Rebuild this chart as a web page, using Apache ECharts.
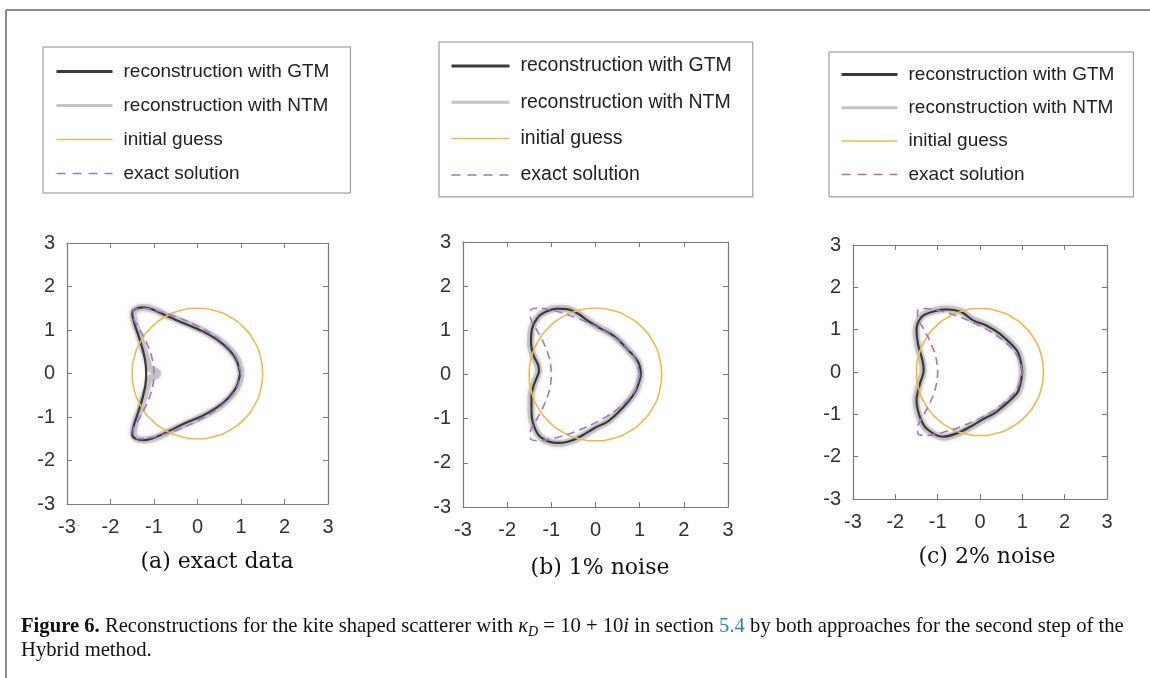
<!DOCTYPE html>
<html>
<head>
<meta charset="utf-8">
<script src="https://cdn.jsdelivr.net/npm/echarts@6/dist/echarts.min.js"></script>
<style>
html,body{margin:0;padding:0;background:#fff;}
#chart{width:1150px;height:678px;}
</style>
</head>
<body>
<div id="chart"></div>
<script>
// ---- data ----
const seriesNames = ['reconstruction with GTM', 'reconstruction with NTM', 'initial guess', 'exact solution'];
const panelCaptions = ['(a) exact data', '(b) 1% noise', '(c) 2% noise'];
const tickValues = [-3, -2, -1, 0, 1, 2, 3];

// initial guess: circle of radius 1.5
const initialGuess = [
  [1.5,0],[1.449,0.388],[1.299,0.75],[1.061,1.061],[0.75,1.299],[0.388,1.449],[0,1.5],
  [-0.388,1.449],[-0.75,1.299],[-1.061,1.061],[-1.299,0.75],[-1.449,0.388],[-1.5,0],
  [-1.449,-0.388],[-1.299,-0.75],[-1.061,-1.061],[-0.75,-1.299],[-0.388,-1.449],[0,-1.5],
  [0.388,-1.449],[0.75,-1.299],[1.061,-1.061],[1.299,-0.75],[1.449,-0.388],[1.5,0]
];
// exact solution: kite
const exactKite = [
  [1.0,0],[0.879,0.388],[0.541,0.75],[0.057,1.061],[-0.475,1.299],[-0.954,1.449],[-1.3,1.5],
  [-1.472,1.449],[-1.475,1.299],[-1.357,1.061],[-1.191,0.75],[-1.053,0.388],[-1.0,0],
  [-1.053,-0.388],[-1.191,-0.75],[-1.357,-1.061],[-1.475,-1.299],[-1.472,-1.449],[-1.3,-1.5],
  [-0.954,-1.449],[-0.475,-1.299],[0.057,-1.061],[0.541,-0.75],[0.879,-0.388],[1.0,0]
];
// (a) exact data
const gtmA = [
  [0.98,0],[0.9,0.3],[0.72,0.55],[0.45,0.78],[0.1,0.98],[-0.3,1.15],[-0.7,1.32],[-1.0,1.46],
  [-1.25,1.52],[-1.45,1.47],[-1.5,1.38],[-1.45,1.15],[-1.35,0.85],[-1.26,0.55],[-1.2,0.28],
  [-1.18,0],[-1.2,-0.28],[-1.26,-0.55],[-1.35,-0.85],[-1.45,-1.15],[-1.5,-1.4],[-1.42,-1.5],
  [-1.22,-1.53],[-0.95,-1.46],[-0.65,-1.32],[-0.3,-1.15],[0.1,-0.98],[0.45,-0.78],[0.72,-0.55],
  [0.9,-0.3],[0.98,0]
];
const ntmA = [
  [1.0,0],[0.92,0.3],[0.73,0.56],[0.46,0.79],[0.1,0.99],[-0.3,1.17],[-0.7,1.33],[-1.0,1.47],
  [-1.25,1.52],[-1.43,1.47],[-1.48,1.35],[-1.43,1.12],[-1.33,0.85],[-1.24,0.55],[-1.15,0.28],
  [-1.1,0.12],[-0.92,0.02],[-0.92,-0.02],[-1.1,-0.12],[-1.15,-0.28],[-1.24,-0.55],[-1.33,-0.85],
  [-1.43,-1.12],[-1.48,-1.37],[-1.4,-1.5],[-1.2,-1.53],[-0.95,-1.47],[-0.65,-1.33],[-0.3,-1.17],
  [0.1,-0.99],[0.46,-0.79],[0.73,-0.56],[0.92,-0.3],[1.0,0]
];
// (b) 1% noise
const gtmB = [
  [1.03,0],[0.98,0.25],[0.8,0.49],[0.42,0.87],[0.1,1.05],[-0.15,1.2],[-0.4,1.38],[-0.65,1.48],
  [-0.87,1.49],[-1.1,1.43],[-1.3,1.3],[-1.44,1.02],[-1.46,0.72],[-1.4,0.42],[-1.3,0.22],
  [-1.28,0.08],[-1.32,-0.05],[-1.4,-0.25],[-1.45,-0.5],[-1.45,-0.8],[-1.42,-1.08],[-1.28,-1.38],
  [-1.05,-1.52],[-0.8,-1.55],[-0.5,-1.48],[-0.3,-1.38],[0.0,-1.2],[0.3,-1.05],[0.72,-0.64],
  [0.92,-0.35],[1.03,0]
];
const ntmB = [
  [1.02,0],[0.97,0.26],[0.79,0.5],[0.41,0.88],[0.09,1.06],[-0.16,1.21],[-0.41,1.39],[-0.66,1.49],
  [-0.86,1.5],[-1.1,1.44],[-1.31,1.29],[-1.45,1.0],[-1.47,0.7],[-1.41,0.42],[-1.31,0.22],
  [-1.29,0.07],[-1.33,-0.06],[-1.41,-0.26],[-1.46,-0.52],[-1.46,-0.82],[-1.42,-1.1],[-1.27,-1.39],
  [-1.04,-1.53],[-0.79,-1.56],[-0.5,-1.49],[-0.3,-1.39],[0.0,-1.21],[0.31,-1.04],[0.72,-0.63],
  [0.93,-0.34],[1.02,0]
];
// (c) 2% noise
const gtmC = [
  [1.0,0],[0.95,0.3],[0.87,0.51],[0.47,0.9],[0.15,1.1],[-0.16,1.22],[-0.45,1.42],[-0.79,1.48],
  [-1.1,1.43],[-1.38,1.3],[-1.5,0.98],[-1.46,0.63],[-1.36,0.28],[-1.33,0.04],[-1.42,-0.28],
  [-1.5,-0.67],[-1.42,-1.06],[-1.26,-1.34],[-0.87,-1.53],[-0.55,-1.45],[-0.24,-1.3],[0.1,-1.1],
  [0.39,-0.94],[0.87,-0.51],[0.95,-0.3],[1.0,0]
];
const ntmC = [
  [1.01,0],[0.96,0.3],[0.87,0.52],[0.47,0.91],[0.15,1.11],[-0.16,1.23],[-0.45,1.43],[-0.79,1.49],
  [-1.11,1.44],[-1.39,1.3],[-1.51,0.97],[-1.47,0.62],[-1.37,0.27],[-1.34,0.03],[-1.43,-0.29],
  [-1.51,-0.68],[-1.43,-1.07],[-1.26,-1.35],[-0.86,-1.54],[-0.55,-1.46],[-0.24,-1.31],[0.1,-1.11],
  [0.4,-0.94],[0.88,-0.51],[0.96,-0.3],[1.01,0]
];

const gtmData = [gtmA, gtmB, gtmC];
const ntmData = [ntmA, ntmB, ntmC];

// ---- layout / styling ----
const grids = [
  {left: 67, top: 243, width: 261, height: 261},
  {left: 463, top: 242, width: 265, height: 265},
  {left: 853, top: 245, width: 254, height: 254}
];
const captionPos = [[217, 562], [600, 568], [987, 557]];
const legendBoxes = [
  {left: 43, top: 47, padding: [15, 21, 10, 12], itemGap: 15, itemWidth: 56, fontSize: 19},
  {left: 439, top: 42, padding: [14, 21, 12, 11], itemGap: 16.3, itemWidth: 58, fontSize: 19.5},
  {left: 829, top: 52, padding: [13, 19, 13, 11], itemGap: 14.3, itemWidth: 56, fontSize: 19}
];
const COL_GTM = '#3a3a3a';
const COL_NTM = 'rgba(175,175,175,0.6)';
const COL_INIT = '#EDBA4A';
const COL_EXACT = '#A575C8';
const AXIS_COL = '#7a7a7a';

const xAxes = [], yAxes = [], series = [], legends = [], graphics = [];

grids.forEach((g, i) => {
  const base = {
    type: 'value', min: tickValues[0], max: tickValues[tickValues.length - 1], interval: 1, gridIndex: i,
    axisLine: {show: true, onZero: false, lineStyle: {color: AXIS_COL, width: 1.2}},
    axisTick: {show: true, inside: true, length: 5, lineStyle: {color: AXIS_COL}},
    splitLine: {show: false}
  };
  xAxes.push(Object.assign({}, base, {position: 'bottom',
    axisLabel: {fontSize: 20, color: '#333', fontFamily: 'Liberation Sans', margin: 13}}));
  xAxes.push(Object.assign({}, base, {position: 'top', axisLabel: {show: false}}));
  yAxes.push(Object.assign({}, base, {position: 'left',
    axisLabel: {fontSize: 20, color: '#333', fontFamily: 'Liberation Sans', margin: 12}}));
  yAxes.push(Object.assign({}, base, {position: 'right', axisLabel: {show: false}}));

  const common = {type: 'line', xAxisIndex: 2 * i, yAxisIndex: 2 * i, symbol: 'none', showSymbol: false, smooth: 0.35, animation: false};
  series.push(Object.assign({}, common, {name: seriesNames[1], data: ntmData[i], z: 2,
    lineStyle: {color: COL_NTM, width: 7, shadowBlur: 4, shadowColor: 'rgba(150,150,150,0.6)'}, itemStyle: {color: '#c8c8c8'}}));
  series.push(Object.assign({}, common, {name: seriesNames[0], data: gtmData[i], z: 3,
    lineStyle: {color: COL_GTM, width: 2.2}, itemStyle: {color: COL_GTM}}));
  series.push(Object.assign({}, common, {name: seriesNames[2], data: initialGuess, z: 4, smooth: 0.5,
    lineStyle: {color: COL_INIT, width: 1.6}, itemStyle: {color: COL_INIT}}));
  series.push(Object.assign({}, common, {name: seriesNames[3], data: exactKite, z: 5,
    lineStyle: {color: COL_EXACT, width: 1.6, type: [8, 5]}, itemStyle: {color: COL_EXACT}}));

  const lb = legendBoxes[i];
  const hide = {opacity: 0, borderWidth: 0};
  legends.push({
    show: true, orient: 'vertical', left: lb.left, top: lb.top, padding: lb.padding,
    itemWidth: lb.itemWidth, itemHeight: 20, itemGap: lb.itemGap,
    borderColor: '#8a8a8a', borderWidth: 1, backgroundColor: '#fff',
    selectedMode: false,
    textStyle: {fontSize: lb.fontSize, color: '#222', fontFamily: 'Liberation Sans', padding: [0, 0, 0, 6]},
    data: [
      {name: seriesNames[0], itemStyle: hide, lineStyle: {color: COL_GTM, width: 3}},
      {name: seriesNames[1], itemStyle: hide, lineStyle: {color: '#c4c4c4', width: 3}},
      {name: seriesNames[2], itemStyle: hide, lineStyle: {color: COL_INIT, width: 1.5}},
      {name: seriesNames[3], itemStyle: hide, lineStyle: {color: COL_EXACT, width: 1.5, type: [9, 7]}}
    ]
  });

  graphics.push({
    type: 'text', x: captionPos[i][0], y: captionPos[i][1],
    style: {text: panelCaptions[i], fill: '#111', font: '22px "DejaVu Serif"', align: 'center', verticalAlign: 'middle'}
  });
});

// figure frame
graphics.push({type: 'line', shape: {x1: 6, y1: 10, x2: 1150, y2: 10}, style: {stroke: '#8c8c8c', lineWidth: 2}});
graphics.push({type: 'line', shape: {x1: 6, y1: 10, x2: 6, y2: 678}, style: {stroke: '#8c8c8c', lineWidth: 2}});

// figure caption
const capFont = 'Liberation Serif';
const CF = 20.65;
const capRich = {
  b: {fontWeight: 'bold', fontSize: CF, fontFamily: capFont, fill: '#111'},
  n: {fontSize: CF, fontFamily: capFont, fill: '#111'},
  i: {fontSize: CF, fontFamily: capFont, fontStyle: 'italic', fill: '#111'},
  s: {fontSize: 14, fontFamily: capFont, fontStyle: 'italic', fill: '#111', verticalAlign: 'bottom', padding: [10, 0, 0, 0]},
  l: {fontSize: CF, fontFamily: capFont, fill: '#2f7fc1'}
};
graphics.push({
  type: 'text', x: 21, y: 627,
  style: {
    text: '{b|Figure 6.}{n| Reconstructions for the kite shaped scatterer with }{i|κ}{s|D}{n| = 10 + 10}{i|i}{n| in section }{l|5.4}{n| by both approaches for the second step of the}',
    rich: capRich, verticalAlign: 'middle', fontSize: CF, fontFamily: capFont
  }
});
graphics.push({
  type: 'text', x: 21, y: 651,
  style: {text: '{n|Hybrid method.}', rich: capRich, verticalAlign: 'middle', fontSize: CF, fontFamily: capFont}
});

const chart = echarts.init(document.getElementById('chart'), null, {renderer: 'canvas'});
chart.setOption({
  backgroundColor: '#fff',
  animation: false,
  grid: grids.map(g => Object.assign({containLabel: false}, g)),
  xAxis: xAxes,
  yAxis: yAxes,
  legend: legends,
  series: series,
  graphic: graphics
});
</script>
</body>
</html>
